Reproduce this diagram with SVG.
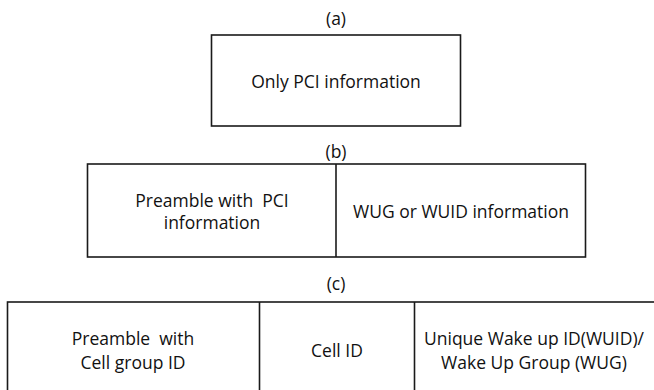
<svg xmlns="http://www.w3.org/2000/svg" width="654" height="390" viewBox="0 0 654 390">
  <style>
    .frame { fill: #ffffff; stroke: #1a1a1a; stroke-width: 1.6; }
    .div { stroke: #1a1a1a; stroke-width: 1.6; fill: none; }
    .t { font-family: "Open Sans", "Noto Sans", "DejaVu Sans", sans-serif; font-size: 17.5px; fill: #111111; text-anchor: middle; dominant-baseline: central; white-space: pre; }
  </style>
  <rect width="654" height="390" fill="#ffffff"/>

  <!-- (a) single field -->
  <g id="label-a"><text class="t" x="336" y="18">(a)</text></g>
  <g id="node-a">
    <rect class="frame" x="211.5" y="35" width="249" height="91"/>
    <text class="t" x="336" y="81">Only PCI information</text>
  </g>

  <!-- (b) two fields -->
  <g id="label-b"><text class="t" x="336" y="151">(b)</text></g>
  <g id="node-b">
    <rect class="frame" x="87.5" y="164" width="498" height="93"/>
    <line class="div" x1="336" y1="164" x2="336" y2="257"/>
    <text class="t" x="212" y="200" xml:space="preserve">Preamble with  PCI</text>
    <text class="t" x="212" y="222">information</text>
    <text class="t" x="461" y="211">WUG or WUID information</text>
  </g>

  <!-- (c) three fields -->
  <g id="label-c"><text class="t" x="336" y="283">(c)</text></g>
  <g id="node-c">
    <rect class="frame" x="7.5" y="302" width="660" height="100"/>
    <line class="div" x1="259.5" y1="302" x2="259.5" y2="392"/>
    <line class="div" x1="414.5" y1="302" x2="414.5" y2="392"/>
    <text class="t" x="133" y="338" xml:space="preserve">Preamble  with</text>
    <text class="t" x="133" y="362">Cell group ID</text>
    <text class="t" x="337" y="350">Cell ID</text>
    <text class="t" x="534" y="338">Unique Wake up ID(WUID)/</text>
    <text class="t" x="534" y="362">Wake Up Group (WUG)</text>
  </g>
</svg>
